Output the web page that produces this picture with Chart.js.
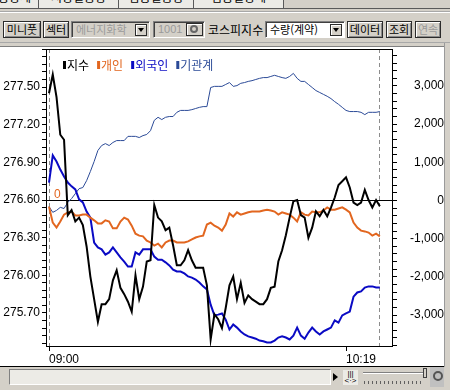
<!DOCTYPE html>
<html lang="ko">
<head>
<meta charset="utf-8">
<title>코스피지수 투자자별 동향</title>
<script src="https://cdn.jsdelivr.net/npm/chart.js@4.4.1/dist/chart.umd.min.js"></script>
<style>
  html, body { margin: 0; padding: 0; }
  body {
    width: 450px; height: 390px; overflow: hidden; position: relative;
    background: #d4d0c8; color: #000;
    font-family: "Noto Sans CJK KR", sans-serif; font-size: 11px;
  }
  .abs { position: absolute; box-sizing: border-box; }
  .tab { top: 0; height: 9px; overflow: hidden; background: #ecebe6; border-right: 1px solid #5a5a5a; }
  .tab span { position: absolute; left: 0; right: 0; top: -10px; text-align: center; font-size: 12px; line-height: 14px; }
  .btn { top: 21px; height: 17px; border: 1px solid #2b2b2b; background: #d4d0c8;
         box-shadow: inset 1px 1px 0 #fff, inset -1px -1px 0 #8a8a8a; text-align: center; line-height: 14px; }
  .sunk { top: 21px; height: 17px; border: 1px solid; border-color: #808080 #fff #fff #808080;
          box-shadow: inset 1px 1px 0 #404040; padding-left: 4px; line-height: 14px; }
  .drop { top: 2px; right: 2px; width: 12px; height: 12px; border: 1px solid #2b2b2b;
          box-shadow: inset 1px 1px 0 #fff; background: #d4d0c8; }
  .drop::after { content: ""; position: absolute; left: 2px; top: 3px; border-left: 3px solid transparent;
                 border-right: 3px solid transparent; border-top: 4px solid #000; }
</style>
</head>
<body>

<!-- tab strip (cut at the top) -->
<div class="abs tab" style="left:-20px;width:59px"><span>업종상세</span></div>
<div class="abs tab" style="left:39px;width:80px"><span>시장별동향</span></div>
<div class="abs tab" style="left:119px;width:75px"><span>업종별동향</span></div>
<div class="abs tab" style="left:194px;width:90px"><span>업종별상세</span></div>
<div class="abs" style="left:0;top:8px;width:450px;height:1px;background:#5a5a5a"></div>
<div class="abs" style="left:0;top:11px;width:450px;height:2px;background:#a8a8a8;border-bottom:1px solid #fff"></div>

<!-- toolbar -->
<div class="abs btn" style="left:3px;width:38px">미니풋</div>
<div class="abs btn" style="left:43px;width:26px">섹터</div>
<div class="abs sunk" style="left:71px;width:79px;color:#9a9a9a">에너지화학<div class="abs drop"></div></div>
<div class="abs sunk" style="left:153px;width:52px">
  <span class="abs" style="left:4px;top:0;color:#9a9a9a;font-family:'Liberation Sans'">1001</span>
  <div class="abs" style="top:1px;right:1px;width:17px;height:13px;border:1px solid #2b2b2b;box-shadow:inset 1px 1px 0 #fff">
    <div class="abs" style="left:3px;top:1px;width:8px;height:8px;border:2px solid #666;border-radius:50%"></div>
  </div>
</div>
<div class="abs" style="left:208px;top:21px;line-height:17px;font-size:12px">코스피지수</div>
<div class="abs sunk" style="left:265px;width:80px;background:#fff">수량(계약)<div class="abs drop"></div></div>
<div class="abs btn" style="left:347px;width:36px">데이터</div>
<div class="abs btn" style="left:386px;width:26px">조회</div>
<div class="abs btn" style="left:415px;width:26px;color:#9a9a9a">연속</div>

<div class="abs" style="left:0;top:42px;width:450px;height:1px;background:#a8a8a8"></div>

<!-- chart panel -->
<div class="abs" style="left:0;top:46px;width:444px;height:321px;background:#fff;border-top:1px solid #808080;border-bottom:1px solid #000"></div>
<div class="abs" style="left:444px;top:43px;width:1px;height:324px;background:#9a9a9a"></div>
<canvas id="chart" class="abs" style="left:0;top:47px" width="444" height="319"></canvas>

<!-- bottom bar -->
<div class="abs" style="left:9px;top:369px;width:322px;height:16px;background:#ecebe6;border:1px solid;border-color:#808080 #fff #fff #808080"></div>
<div class="abs" style="left:333px;top:373px;border-top:4px solid transparent;border-bottom:4px solid transparent;border-left:5px solid #000"></div>
<div class="abs" style="left:343px;top:370px;width:15px;height:15px;background:#ecebe6;font:8px 'Liberation Sans';line-height:7px;text-align:center">|||<br>&lt;·&gt;</div>
<div class="abs" style="left:363px;top:372px;width:62px;height:2px;background:#808080;border-bottom:1px solid #fff"></div>
<div class="abs" style="left:423px;top:368px;width:4px;height:10px;background:#d4d0c8;border:1px solid #404040"></div>
<div class="abs" style="left:364px;top:381px;width:60px;height:3px;background:repeating-linear-gradient(90deg,#606060 0 1px,transparent 1px 4px)"></div>
<div class="abs" style="left:430px;top:367px;width:14px;height:20px;background:#c0c0c0"></div>
<div class="abs" style="left:433px;top:371px;width:10px;height:10px;border:2px solid #555;border-radius:50%"></div>

<script>
// ─── data ────────────────────────────────────────────────
// one point per minute, 09:00 ~ 10:28
const times = [];
for (let m = 0; m <= 88; m++) {
    const h = 9 + Math.floor(m / 60);
    times.push(String(h).padStart(2, '0') + ':' + String(m % 60).padStart(2, '0'));
}

const seriesNames = ['지수', '개인', '외국인', '기관계'];
const seriesColors = ['#000000', '#e2661f', '#0a0ac4', '#2b4a97'];

// 지수 (left axis)
const indexValues = [
    277.45, 277.60, 277.42, 277.12, 277.08, 276.48, 276.52, 276.43, 276.46, 276.40,
    276.23, 275.99, 275.81, 275.63, 275.77, 275.77, 275.81, 275.96, 276.04, 275.90,
    275.85, 275.79, 275.71, 276.00, 275.81, 275.91, 276.11, 276.12, 276.56, 276.46,
    276.43, 276.36, 276.38, 276.24, 276.08, 276.08, 276.12, 276.20, 276.12, 276.06,
    276.06, 276.06, 275.92, 275.49, 275.69, 275.65, 275.58, 275.74, 275.92, 275.99,
    275.81, 275.94, 275.78, 275.84, 275.81, 275.79, 275.77, 275.77, 275.81, 275.90,
    275.91, 276.11, 276.20, 276.32, 276.46, 276.59, 276.60, 276.48, 276.46, 276.30,
    276.38, 276.51, 276.47, 276.52, 276.47, 276.54, 276.62, 276.72, 276.75, 276.78,
    276.70, 276.58, 276.56, 276.58, 276.68, 276.60, 276.54, 276.60, 276.55
];
// 개인 (right axis)
const retailValues = [
    -160, -580, -710, -550, -370, -310, -290, -390, -390, -370,
    -370, -450, -520, -600, -600, -520, -550, -730, -730, -550,
    -450, -500, -660, -870, -920, -940, -1050, -1100, -1180, -1130,
    -1230, -1100, -1050, -1050, -1100, -1100, -1100, -1070, -1020, -970,
    -940, -920, -630, -580, -660, -710, -790, -630, -340, -420,
    -310, -370, -340, -310, -290, -290, -290, -260, -240, -260,
    -290, -370, -310, -340, -370, -450, -550, -310, -370, -390,
    -290, -310, -310, -260, -180, -240, -240, -210, -180, -240,
    -310, -580, -710, -790, -810, -840, -920, -870, -940
];
// 외국인 (right axis)
const foreignValues = [
    470, 1180, 1020, 810, 630, 470, 370, 290, 30, -50,
    -290, -450, -1100, -1230, -1280, -1420, -1360, -1230, -1360, -1490,
    -1600, -1730, -1730, -1360, -1420, -1280, -1280, -1280, -1470, -1550,
    -1550, -1620, -1700, -1810, -1860, -1860, -1910, -1990, -2020, -2070,
    -2150, -2250, -2330, -2730, -3010, -2990, -2960, -3120, -3380, -3250,
    -3330, -3430, -3510, -3560, -3590, -3620, -3670, -3690, -3720, -3720,
    -3670, -3590, -3560, -3590, -3640, -3540, -3330, -3540, -3620, -3460,
    -3330, -3430, -3510, -3430, -3380, -3330, -3140, -3200, -3010, -2960,
    -2910, -2520, -2410, -2380, -2280, -2250, -2250, -2280, -2280
];
// 기관계 (right axis)
const instValues = [
    -160, -310, -260, -180, -210, -50, 50, 180, 310, 340,
    520, 760, 1020, 1310, 1440, 1490, 1440, 1520, 1570, 1570,
    1570, 1680, 1680, 1680, 1650, 1700, 1730, 1830, 2100, 2180,
    2120, 2180, 2200, 2200, 2310, 2360, 2360, 2360, 2380, 2410,
    2440, 2460, 2460, 2960, 2990, 2990, 2990, 3040, 3090, 2990,
    3010, 3070, 3090, 3120, 3140, 3170, 3200, 3220, 3220, 3250,
    3280, 3250, 3220, 3200, 3250, 3330, 3200, 3120, 3120, 3040,
    2960, 2880, 2830, 2780, 2730, 2670, 2590, 2520, 2440, 2360,
    2330, 2330, 2330, 2310, 2250, 2310, 2310, 2310, 2330
];

const leftTicks = [275.70, 276.00, 276.30, 276.60, 276.90, 277.20, 277.50];
const rightTicks = [-3000, -2000, -1000, 0, 1000, 2000, 3000];
const xTicks = ['09:00', '10:19'];

// ─── helpers ─────────────────────────────────────────────
const tickFont = { family: 'Liberation Sans', size: 12 };
const lastIdx = times.length - 1;

// major ticks split into 5 minor steps, covering the whole axis
function minorTicks(major, min, max) {
    const step = (major[1] - major[0]) / 5;
    const out = [];
    const kMin = Math.ceil((min - major[0]) / step - 1e-6);
    const kMax = Math.floor((max - major[0]) / step + 1e-6);
    for (let k = kMin; k <= kMax; k++) out.push({ value: +(major[0] + k * step).toFixed(4) });
    return out;
}
function majorLabel(major, v, fmt) {
    const hit = major.find(t => Math.abs(t - v) < 1e-6);
    return hit === undefined ? '' : fmt(hit);
}
const series = (i, data, width, axis) => ({
    label: seriesNames[i],
    data: data.map((v, k) => ({ x: k, y: v })),
    borderColor: seriesColors[i],
    backgroundColor: seriesColors[i],
    borderWidth: width,
    yAxisID: axis,
    pointRadius: 0,
    tension: 0,
    fill: false
});

// frame, dashed session lines, legend and the '0' marker
const framePlugin = {
    id: 'frame',
    beforeDatasetsDraw(chart) {
        const { ctx, chartArea: a, scales } = chart;
        ctx.save();
        ctx.strokeStyle = '#8c8c8c';
        ctx.lineWidth = 1;
        ctx.setLineDash([4, 3]);
        [0, lastIdx].forEach(i => {
            const x = Math.floor(scales.x.getPixelForValue(i)) + 0.5;
            ctx.beginPath();
            ctx.moveTo(x, a.top);
            ctx.lineTo(x, a.bottom);
            ctx.stroke();
        });
        ctx.restore();
    },
    afterDraw(chart) {
        const { ctx, chartArea: a, scales } = chart;
        ctx.save();
        ctx.strokeStyle = '#000';
        ctx.lineWidth = 1;
        ctx.strokeRect(a.left + 0.5, a.top + 0.5, a.right - a.left - 1, a.bottom - a.top);

        // legend
        ctx.font = '12px "Noto Sans CJK KR"';
        ctx.textBaseline = 'middle';
        ctx.textAlign = 'left';
        let x = a.left + 17;
        const y = a.top + 16;
        seriesNames.forEach((n, i) => {
            ctx.fillStyle = seriesColors[i];
            ctx.fillRect(x, y - 4, 3, 8);
            x += 4;
            ctx.fillText(n, x, y);
            x += ctx.measureText(n).width + 8;
        });

        // zero marker
        ctx.fillStyle = seriesColors[1];
        ctx.font = '12px "Liberation Sans"';
        ctx.fillText('0', a.left + 8, scales.yR.getPixelForValue(0) - 6);
        ctx.restore();
    }
};

// ─── chart ───────────────────────────────────────────────
const ctx = document.getElementById('chart').getContext('2d');
const chart = new Chart(ctx, {
    type: 'line',
    data: {
        datasets: [
            series(0, indexValues, 2, 'yL'),
            series(1, retailValues, 2, 'yR'),
            series(2, foreignValues, 2, 'yR'),
            series(3, instValues, 1, 'yR')
        ]
    },
    options: {
        responsive: false,
        animation: false,
        events: [],
        layout: { padding: { top: 2, left: 0, right: 0, bottom: 0 } },
        plugins: { legend: { display: false }, tooltip: { enabled: false } },
        scales: {
            x: {
                type: 'linear',
                min: -0.8,
                max: 91.5,
                afterBuildTicks: s => { s.ticks = xTicks.map(t => ({ value: times.indexOf(t) })); },
                afterFit: s => { s.height = 20; s.paddingLeft = 0; s.paddingRight = 0; },
                border: { display: false },
                grid: { drawOnChartArea: false, tickLength: 5, tickColor: '#000' },
                ticks: {
                    autoSkip: false, maxRotation: 0, align: 'start', padding: 1,
                    color: '#000', font: tickFont,
                    callback: v => times[v]
                }
            },
            yL: {
                position: 'left',
                min: 275.437,
                max: 277.803,
                afterBuildTicks: s => { s.ticks = minorTicks(leftTicks, s.min, s.max); },
                afterFit: s => { s.width = 46; s.paddingTop = 0; s.paddingBottom = 0; },
                border: { display: false },
                grid: { drawOnChartArea: false, tickLength: 4, tickColor: '#000' },
                ticks: {
                    autoSkip: false, padding: 2, color: '#000', font: tickFont,
                    callback: v => majorLabel(leftTicks, v, t => t.toFixed(2))
                }
            },
            yR: {
                position: 'right',
                min: -3812,
                max: 3969,
                afterBuildTicks: s => { s.ticks = minorTicks(rightTicks, s.min, s.max); },
                afterFit: s => { s.width = 51; s.paddingTop = 0; s.paddingBottom = 0; },
                border: { display: false },
                grid: {
                    drawOnChartArea: true,
                    tickLength: 4,
                    tickColor: '#000',
                    color: c => (c.tick && c.tick.value === 0 ? '#000' : 'rgba(0,0,0,0)')
                },
                ticks: {
                    autoSkip: false, padding: 4, crossAlign: 'far', color: '#000', font: tickFont,
                    callback: v => majorLabel(rightTicks, v, t => t.toLocaleString('en-US'))
                }
            }
        }
    },
    plugins: [framePlugin]
});
</script>
</body>
</html>
